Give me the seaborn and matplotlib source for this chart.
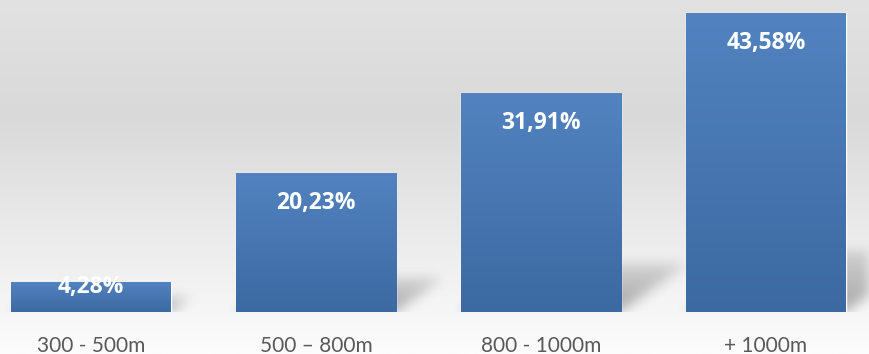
import numpy as np
import pandas as pd
import matplotlib
matplotlib.use("Agg")
import matplotlib.pyplot as plt
import seaborn as sns
from matplotlib.colors import LinearSegmentedColormap

# data
categories = ["300 - 500m", "500 \u2013 800m", "800 - 1000m", "+ 1000m"]
values = [4.28, 20.23, 31.91, 43.58]
labels = ["4,28%", "20,23%", "31,91%", "43,58%"]

df = pd.DataFrame({"cat": categories, "val": values})

sns.set_theme(style="white")
plt.rcParams["font.family"] = ["Lato", "DejaVu Sans"]

W, H = 869, 354
fig = plt.figure(figsize=(W / 100, H / 100), dpi=100)

# background gradient (whole figure)
bg = fig.add_axes([0, 0, 1, 1], zorder=0)
stops = [(0.0, "#e2e2e2"), (0.33, "#d9d9d9"), (0.72, "#eeeeee"), (1.0, "#fcfcfc")]
bg_cmap = LinearSegmentedColormap.from_list("bg", stops)
grad = np.linspace(0, 1, 256).reshape(-1, 1)
bg.imshow(grad, aspect="auto", cmap=bg_cmap, extent=[0, 1, 0, 1], origin="upper")
bg.set_axis_off()

# main axes
bottom_px = 312
ax = fig.add_axes([0, (H - bottom_px) / H, 1, bottom_px / H], zorder=1)
ax.patch.set_alpha(0)

bar_w = 160 / 225
sns.barplot(data=df, x="cat", y="val", color="#4a78b4", width=bar_w,
            saturation=1, ax=ax, zorder=3)

xlim = (-91 / 225, (W - 91) / 225)
px_per_unit = 299 / 43.58
ylim = (0, bottom_px / px_per_unit)

# soft floor shadows behind the bars
nx, ny = W, bottom_px
xs = np.linspace(xlim[0], xlim[1], nx)
ys = np.linspace(ylim[0], ylim[1], ny)
X, Y = np.meshgrid(xs, ys)
alpha = np.zeros_like(X)
k = 1.4 * px_per_unit / 225
for i, v in enumerate(values):
    sh = 1.46 + 0.17 * v
    inside = (Y <= sh) & (X >= i - bar_w / 2 + k * Y) & (X <= i + bar_w / 2 + k * Y)
    alpha = np.maximum(alpha, inside * (1 - 0.6 * Y / sh))

def blur(a, sigma, axis):
    r = int(3 * sigma)
    t = np.arange(-r, r + 1)
    ker = np.exp(-t ** 2 / (2 * sigma ** 2))
    ker /= ker.sum()
    return np.apply_along_axis(lambda m: np.convolve(m, ker, mode="same"), axis, a)

alpha = blur(blur(alpha, 6, 0), 6, 1)
shadow = np.zeros((ny, nx, 4))
shadow[..., 3] = np.clip(alpha * 0.32, 0, 1)
ax.imshow(shadow, extent=[xlim[0], xlim[1], ylim[0], ylim[1]], origin="lower",
          aspect="auto", zorder=2, interpolation="bilinear")

# gradient fill for bars
bar_cmap = LinearSegmentedColormap.from_list("bar", ["#3c69a1", "#5283c0"])
for p in ax.patches:
    x0, w, h = p.get_x(), p.get_width(), p.get_height()
    ax.imshow(np.linspace(0, 1, 128).reshape(-1, 1), cmap=bar_cmap,
              extent=[x0, x0 + w, 0, h], origin="lower", aspect="auto", zorder=4)

# value labels
for i, v in enumerate(values):
    h_px = v * px_per_unit
    off = min(30, h_px - 25)
    ax.annotate(labels[i], (i, v), xytext=(0, -off * 0.72), textcoords="offset points",
                ha="center", va="center", color="white", fontsize=16.5,
                fontweight="bold", family=["Open Sans", "DejaVu Sans"], zorder=6)

ax.set_xlim(*xlim)
ax.set_ylim(*ylim)
ax.set_xlabel("")
ax.set_ylabel("")
ax.set_yticks([])
ax.tick_params(axis="x", length=0, pad=17, labelsize=15, labelcolor="#595959")
sns.despine(ax=ax, left=True, bottom=True)

fig.savefig("out.png", dpi=100)
